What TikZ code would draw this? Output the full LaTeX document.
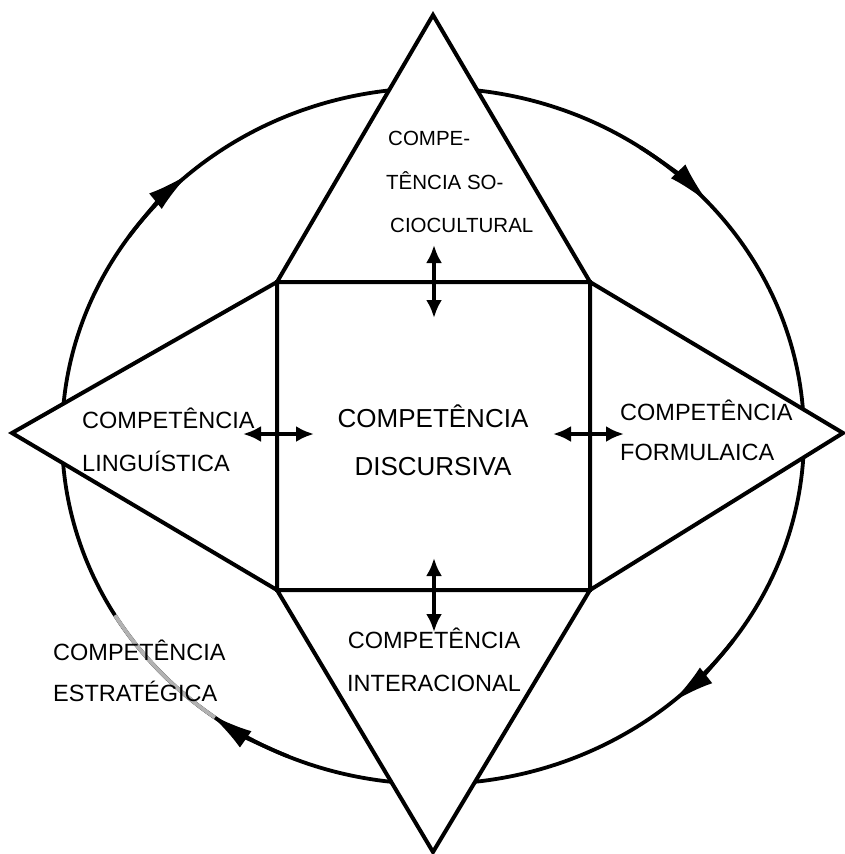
\documentclass[tikz,border=0pt]{standalone}
\usepackage{fontspec}
\setmainfont{Liberation Sans}
\usetikzlibrary{arrows.meta}
\begin{document}
\begin{tikzpicture}[x=1pt,y=1pt,
  edge/.style={line width=4pt, line join=miter},
  ring/.style={line width=3.8pt},
  ringarrow/.style={line width=3.8pt, -{Latex[length=44pt,width=20pt]}},
  dbl/.style={line width=3.5pt, {Latex[length=18pt,width=16pt]}-{Latex[length=18pt,width=16pt]}},
  lab/.style={font=\fontsize{23.5}{42}\selectfont, inner sep=0pt},
  toplab/.style={font=\fontsize{20.5}{42}\selectfont, inner sep=0pt},
  biglab/.style={font=\fontsize{26}{48}\selectfont, inner sep=0pt}]
\useasboundingbox (0,0) rectangle (845,-854);
% ellipse centre
\coordinate (c) at (433,-436);
\draw[ring] (c) ellipse[x radius=371pt, y radius=348pt];
% arrows on the ring (clockwise)
\draw[ringarrow] (c) ++(145:371pt and 348pt) arc[start angle=145, end angle=131, x radius=371pt, y radius=348pt];
\draw[ringarrow] (c) ++(56:371pt and 348pt) arc[start angle=56, end angle=42, x radius=371pt, y radius=348pt];
\draw[ringarrow] (c) ++(-36:371pt and 348pt) arc[start angle=-36, end angle=-50, x radius=371pt, y radius=348pt];
\draw[ringarrow] (c) ++(247:371pt and 348pt) arc[start angle=247, end angle=233, x radius=371pt, y radius=348pt];
\draw[ring, gray!60] (c) ++(234:371pt and 348pt) arc[start angle=234, end angle=211, x radius=371pt, y radius=348pt];
% corners
\coordinate (nw) at (277,-282);
\coordinate (ne) at (590,-282);
\coordinate (sw) at (277,-590);
\coordinate (se) at (590,-590);
\coordinate (topA) at (433,-15);
\coordinate (botA) at (433,-852);
\coordinate (leftA) at (12,-433);
\coordinate (rightA) at (843,-433);
% triangles and square
\draw[edge, fill=white] (topA) -- (ne) -- (nw) -- cycle;
\draw[edge, fill=white] (botA) -- (se) -- (sw) -- cycle;
\draw[edge, fill=white] (leftA) -- (nw) -- (sw) -- cycle;
\draw[edge, fill=white] (rightA) -- (ne) -- (se) -- cycle;
\draw[edge] (nw) rectangle (se);
% double arrows
\coordinate (u1) at (434,-245);
\coordinate (u2) at (434,-318);
\coordinate (d1) at (434,-558);
\coordinate (d2) at (434,-632);
\coordinate (l1) at (243,-434);
\coordinate (l2) at (314,-434);
\coordinate (r1) at (553,-434);
\coordinate (r2) at (624,-434);
\draw[dbl] (u1) -- (u2);
\draw[dbl] (d1) -- (d2);
\draw[dbl] (l1) -- (l2);
\draw[dbl] (r1) -- (r2);
% labels
\node[toplab, anchor=base west] (soc1) at (388,-145) {COMPE-};
\node[toplab, anchor=base west] (soc2) at (386,-189) {TÊNCIA SO-};
\node[toplab, anchor=base west] (soc3) at (390,-232) {CIOCULTURAL};
\node[lab, anchor=base west] (lin1) at (82,-428) {COMPETÊNCIA};
\node[lab, anchor=base west] (lin2) at (82,-471) {LINGUÍSTICA};
\node[lab, anchor=base west] (for1) at (620,-420) {COMPETÊNCIA};
\node[lab, anchor=base west] (for2) at (620,-460) {FORMULAICA};
\node[lab, anchor=base] (int1) at (434,-648) {COMPETÊNCIA};
\node[lab, anchor=base] (int2) at (434,-691) {INTERACIONAL};
\node[lab, anchor=base west] (est1) at (53,-660) {COMPETÊNCIA};
\node[lab, anchor=base west] (est2) at (53,-701) {ESTRATÉGICA};
\node[biglab, anchor=base] (dis1) at (433,-427) {COMPETÊNCIA};
\node[biglab, anchor=base] (dis2) at (433,-475) {DISCURSIVA};
\end{tikzpicture}
\end{document}
